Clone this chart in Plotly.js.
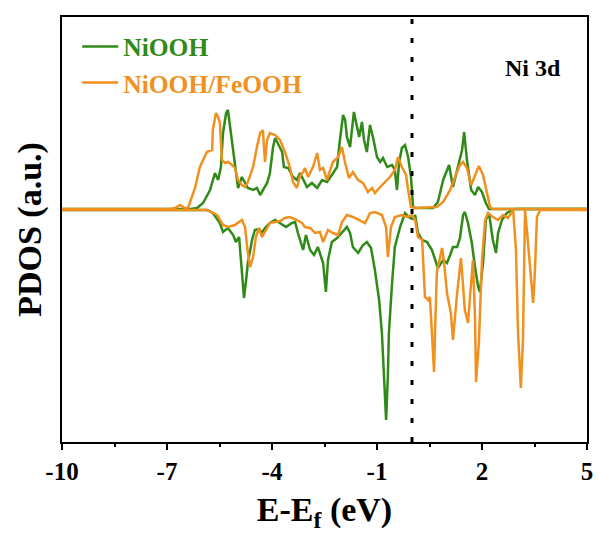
<!DOCTYPE html>
<html>
<head>
<meta charset="utf-8">
<script src="https://cdn.plot.ly/plotly-3.0.1.min.js"></script>
<style>html,body{margin:0;padding:0;background:#fff;}#chart{width:598px;height:536px;}</style>
</head>
<body>
<div id="chart"></div>
<script>
// ---- data (energy in eV relative to Ef, PDOS in arbitrary units) ----
const niUpE = [-10, -6.34, -6.14, -5.97, -5.77, -5.63, -5.54, -5.46, -5.40, -5.31, -5.26, -5.20, -5.11, -5.03, -4.97, -4.86, -4.77, -4.69, -4.54, -4.43, -4.34, -4.26, -4.14, -4.06, -3.97, -3.91, -3.83, -3.71, -3.66, -3.54, -3.40, -3.29, -3.20, -3.14, -3.00, -2.86, -2.71, -2.57, -2.43, -2.29, -2.14, -2.06, -1.97, -1.91, -1.86, -1.77, -1.71, -1.66, -1.57, -1.51, -1.43, -1.37, -1.29, -1.20, -1.11, -1.00, -0.91, -0.83, -0.71, -0.57, -0.49, -0.43, -0.37, -0.29, -0.20, -0.11, -0.03, 0.03, 0.09, 0.60, 0.74, 0.89, 1.06, 1.17, 1.29, 1.43, 1.49, 1.57, 1.69, 1.80, 1.89, 2.00, 2.11, 2.20, 5];
const niUp  = [0, 0, 1, 6, 19, 36, 29, 42, 76, 96, 99, 82, 56, 36, 21, 32, 26, 21, 19, 21, 14, 19, 26, 36, 62, 71, 66, 57, 42, 41, 32, 29, 36, 32, 22, 26, 21, 29, 27, 34, 42, 69, 94, 89, 72, 62, 82, 97, 82, 72, 87, 69, 57, 84, 71, 52, 47, 51, 42, 44, 39, 19, 46, 61, 64, 52, 32, 2, 1, 1, 7, 29, 44, 22, 39, 59, 77, 49, 19, 14, 22, 17, 6, 0, 0];

const niDnE = [-10, -5.86, -5.69, -5.49, -5.40, -5.26, -5.11, -5.03, -4.94, -4.89, -4.83, -4.80, -4.74, -4.69, -4.57, -4.49, -4.37, -4.29, -4.20, -4.06, -3.91, -3.77, -3.60, -3.43, -3.34, -3.26, -3.11, -3.03, -2.91, -2.80, -2.69, -2.54, -2.46, -2.40, -2.29, -2.14, -2.00, -1.86, -1.77, -1.69, -1.54, -1.40, -1.29, -1.17, -1.06, -0.94, -0.86, -0.80, -0.74, -0.69, -0.66, -0.57, -0.49, -0.34, -0.20, -0.06, 0.03, 0.09, 0.17, 0.29, 0.43, 0.57, 0.66, 0.74, 0.89, 1.00, 1.09, 1.17, 1.29, 1.37, 1.46, 1.51, 1.60, 1.71, 1.80, 1.89, 1.94, 2.03, 2.11, 2.20, 2.31, 2.40, 2.46, 2.57, 2.71, 2.86, 2.94, 5];
const niDn  = [-1, -1, -4, -14, -23, -19, -26, -33, -28, -48, -71, -89, -71, -54, -31, -21, -20, -24, -19, -14, -11, -14, -18, -14, -13, -24, -41, -26, -41, -46, -38, -54, -83, -51, -33, -29, -23, -18, -24, -38, -44, -36, -33, -39, -61, -91, -124, -168, -211, -168, -124, -74, -38, -18, -4, -9, -10, -6, -24, -31, -33, -41, -51, -59, -51, -54, -46, -38, -38, -29, -6, -3, -14, -34, -58, -78, -83, -54, -11, -4, -31, -44, -24, -11, -4, -1, 0, 0];

const feUpE = [-10, -6.91, -6.77, -6.63, -6.49, -6.40, -6.20, -6.06, -5.86, -5.71, -5.69, -5.60, -5.54, -5.49, -5.43, -5.34, -5.26, -5.14, -5.06, -4.97, -4.86, -4.77, -4.69, -4.54, -4.43, -4.34, -4.26, -4.20, -4.14, -4.06, -3.91, -3.77, -3.63, -3.49, -3.40, -3.29, -3.20, -3.11, -3.06, -2.97, -2.83, -2.71, -2.63, -2.54, -2.43, -2.34, -2.26, -2.11, -2.00, -1.91, -1.80, -1.69, -1.54, -1.40, -1.26, -1.14, -1.06, -0.91, -0.77, -0.63, -0.49, -0.40, -0.29, -0.17, -0.11, -0.03, 0.09, 0.51, 0.71, 0.89, 1.09, 1.23, 1.37, 1.46, 1.57, 1.69, 1.80, 1.91, 2.03, 2.14, 2.23, 2.29, 5];
const feUp  = [0, 0, 1, 4, 1, 1, 21, 42, 57, 59, 79, 96, 92, 86, 49, 46, 47, 44, 41, 29, 24, 22, 27, 42, 62, 76, 79, 47, 69, 76, 74, 69, 57, 42, 27, 21, 33, 37, 41, 32, 42, 56, 39, 41, 29, 39, 47, 52, 62, 46, 31, 37, 29, 26, 17, 21, 16, 22, 27, 32, 39, 52, 42, 34, 19, 2, 1, 2, 2, 7, 19, 32, 44, 47, 41, 24, 34, 43, 34, 17, 2, 0, 0];

const feDnE = [-10, -5.86, -5.57, -5.40, -5.26, -5.06, -4.86, -4.77, -4.71, -4.63, -4.54, -4.46, -4.37, -4.29, -4.17, -4.06, -3.91, -3.77, -3.63, -3.49, -3.29, -3.14, -3.06, -2.91, -2.77, -2.63, -2.54, -2.40, -2.26, -2.11, -2.00, -1.86, -1.69, -1.51, -1.34, -1.20, -1.06, -0.86, -0.74, -0.69, -0.60, -0.49, -0.29, -0.14, 0.00, 0.09, 0.17, 0.29, 0.37, 0.46, 0.51, 0.57, 0.63, 0.66, 0.71, 0.86, 0.91, 1.00, 1.11, 1.17, 1.23, 1.29, 1.40, 1.46, 1.51, 1.60, 1.69, 1.74, 1.80, 1.83, 1.91, 2.00, 2.09, 2.17, 2.31, 2.46, 2.60, 2.74, 2.89, 2.97, 3.03, 3.11, 3.17, 3.20, 3.23, 3.29, 3.37, 3.46, 3.51, 3.57, 3.66, 5];
const feDn  = [-1, -1, -6, -16, -18, -16, -11, -18, -38, -58, -48, -28, -19, -28, -21, -14, -13, -12, -9, -8, -11, -14, -18, -19, -24, -23, -33, -21, -24, -26, -13, -6, -8, -11, -14, -4, -3, -6, -18, -48, -18, -8, -6, -8, -6, -11, -28, -31, -88, -91, -88, -124, -163, -121, -63, -39, -51, -84, -104, -131, -104, -84, -49, -74, -101, -114, -78, -51, -108, -173, -134, -51, -11, -4, -8, -11, -6, -9, -1, -41, -124, -179, -131, -41, -1, -24, -58, -94, -64, -8, -1, -1];

const seriesNames = ['NiOOH', 'NiOOH/FeOOH'];
const seriesColors = ['#2f8a17', '#f0901f'];
const tickVals = [-10, -7, -4, -1, 2, 5];
const tickText = ['-10', '-7', '-4', '-1', '2', '5'];
const fermiLevel = 0;
const panelLabel = 'Ni 3d';

// ---- chart ----
const FONT = '"Liberation Serif", "Times New Roman", serif';
function tr(x, y, i, show) {
  return {
    x: x, y: y, type: 'scatter', mode: 'lines',
    name: '<span style="color:' + seriesColors[i] + '">' + seriesNames[i] + '</span>',
    legendgroup: 'g' + i, showlegend: show,
    line: {color: seriesColors[i], width: 2.5},
    hoverinfo: 'skip'
  };
}
const data = [
  tr(niUpE, niUp, 0, true),
  tr(niDnE, niDn, 0, false),
  tr(feUpE, feUp, 1, true),
  tr(feDnE, feDn, 1, false)
];

const layout = {
  width: 598, height: 536,
  margin: {l: 62, r: 11, t: 17, b: 94},
  paper_bgcolor: '#fff', plot_bgcolor: '#fff',
  font: {family: FONT, color: '#000'},
  showlegend: true,
  legend: {
    x: 0.029, y: 0.985, xanchor: 'left', yanchor: 'top',
    bgcolor: 'rgba(0,0,0,0)', borderwidth: 0,
    font: {family: FONT, size: 25.5, weight: 'bold'},
    tracegroupgap: 0, itemwidth: 36
  },
  xaxis: {
    range: [-10, 5], showgrid: false, zeroline: false,
    showline: true, linecolor: '#000', linewidth: 2, mirror: true,
    ticks: 'outside', ticklen: 6, tickwidth: 2, tickcolor: '#000',
    tickvals: tickVals, ticktext: tickText,
    tickfont: {family: FONT, size: 25, weight: 'bold', color: '#000'},
    minor: {ticks: 'outside', ticklen: 3, tickwidth: 2, tickcolor: '#000', tick0: -10, dtick: 1.5},
    title: {text: 'E-E<sub>f</sub> (eV)', font: {family: FONT, size: 34, weight: 'bold', color: '#000'}, standoff: 13}
  },
  yaxis: {
    range: [-233, 192], showgrid: false, zeroline: false,
    showline: true, linecolor: '#000', linewidth: 2, mirror: true,
    ticks: '', showticklabels: false,
    title: {text: 'PDOS (a.u.)', font: {family: FONT, size: 34, weight: 'bold', color: '#000'}, standoff: 8}
  },
  shapes: [{
    type: 'line', xref: 'x', yref: 'paper', x0: fermiLevel, x1: fermiLevel, y0: 0, y1: 1,
    line: {color: '#000', width: 3, dash: '5px,14px'}
  }],
  annotations: [{
    text: panelLabel, xref: 'paper', yref: 'paper', x: 0.897, y: 0.88,
    xanchor: 'center', yanchor: 'middle', showarrow: false,
    font: {family: FONT, size: 24, weight: 'bold', color: '#000'}
  }]
};

Plotly.newPlot('chart', data, layout, {displayModeBar: false, staticPlot: true});
</script>
</body>
</html>
